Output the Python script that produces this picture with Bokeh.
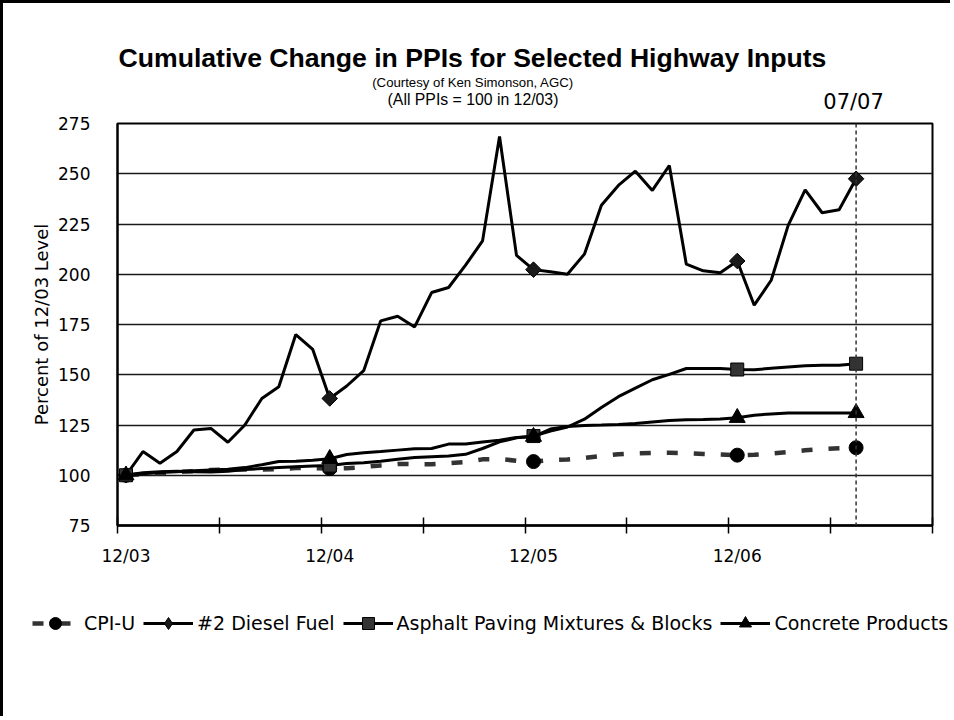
from math import pi
from bokeh.plotting import figure
from bokeh.layouts import column
from bokeh.models import Range1d, FixedTicker, Legend, LegendItem, Span
from bokeh.core.properties import value
from bokeh.embed import file_html
from bokeh.resources import INLINE

# ---------------- data ----------------
month_labels = []
for yy, mm in [(3, 12)] + [(y, m) for y in (4, 5, 6) for m in range(1, 13)] + [(7, m) for m in range(1, 8)]:
    month_labels.append(f"{mm:02d}/{yy:02d}")

cpi = [100.0, 100.5, 101.0, 101.7, 102.0, 102.6, 102.9, 102.8, 102.8, 103.0, 103.6, 103.6,
       103.3, 103.5, 104.1, 104.9, 105.6, 105.5, 105.5, 106.0, 106.6, 107.9, 108.1, 107.2,
       106.8, 107.6, 107.8, 108.6, 109.6, 110.5, 110.9, 111.1, 111.2, 111.0, 110.6, 110.3,
       110.0, 110.2, 110.8, 111.6, 112.4, 113.0, 113.4, 113.7]

diesel = [100.0, 111.8, 106.0, 111.8, 122.5, 123.3, 116.4, 125.0, 138.2, 144.0, 170.0, 162.6,
          138.2, 144.4, 152.0, 176.8, 179.1, 173.8, 190.9, 193.4, 204.5, 216.6, 268.5, 209.4,
          202.3, 201.2, 200.0, 210.0, 234.3, 244.2, 251.3, 241.7, 254.1, 205.0, 201.7, 200.7,
          206.6, 184.6, 197.0, 224.3, 242.0, 230.6, 232.1, 247.5]

asphalt = [100.0, 101.2, 101.8, 102.0, 101.8, 101.6, 102.0, 102.8, 103.3, 103.8, 104.2, 104.6,
           104.8, 105.8, 106.2, 107.0, 108.0, 108.8, 109.2, 109.6, 110.4, 113.3, 116.6, 118.6,
           119.5, 122.0, 124.0, 127.9, 133.7, 139.1, 143.3, 147.5, 150.2, 153.1, 153.1, 153.1,
           152.6, 152.5, 153.2, 153.9, 154.5, 154.7, 154.7, 155.5]

concrete = [100.0, 100.8, 101.4, 101.8, 102.2, 102.6, 103.0, 103.8, 105.2, 106.8, 107.0, 107.5,
            108.2, 110.3, 111.2, 111.8, 112.5, 113.2, 113.3, 115.5, 115.6, 116.5, 117.4, 118.8,
            119.2, 123.0, 124.3, 124.8, 125.0, 125.3, 125.8, 126.5, 127.2, 127.6, 127.7, 128.0,
            128.6, 129.9, 130.5, 131.0, 131.0, 131.0, 131.0, 131.0]

series_names = ["CPI-U", "#2 Diesel Fuel", "Asphalt Paving Mixtures & Blocks", "Concrete Products"]
marker_months = ["12/03", "12/04", "12/05", "12/06", "07/07"]
x_tick_labels = ["12/03", "12/04", "12/05", "12/06"]
y_ticks = [75, 100, 125, 150, 175, 200, 225, 250, 275]
n_slots = 48          # category slots on the axis (12/03 .. 11/07)
current_month = "07/07"

title = "Cumulative Change in PPIs for Selected Highway Inputs"
subtitle1 = "(Courtesy of Ken Simonson, AGC)"
subtitle2 = "(All PPIs = 100 in 12/03)"
y_title = "Percent of 12/03 Level"

# ---------------- derived positions (slot centres) ----------------
xs = [i + 0.5 for i in range(len(month_labels))]
midx = [month_labels.index(m) for m in marker_months]
mx = [xs[i] for i in midx]
cur_x = xs[month_labels.index(current_month)]

# ---------------- geometry (content coordinates; a 3px frame border sits left/top) ----------------
B = 3                          # outer border width
W = 947
FR_L, FR_R = 117 - B, 932 - B  # plot frame left / right
HEAD_H = 113 - B
TOP_PAD = 10                   # main figure border above the frame (frame top at page y 123)
MAIN_H = 477
FOOT_H = 126
upp = n_slots / (FR_R - FR_L)  # x units per pixel

# styles
CPI_LINE = dict(line_color="#333333", line_width=4.5, line_dash="11 16", line_dash_offset=25)
CPI_MK = dict(marker="circle", size=14, fill_color="black", line_color="black")
DIE_LINE = dict(line_color="black", line_width=3)
DIE_MK = dict(marker="square", angle=pi / 4, size=11, fill_color="#1a1a1a", line_color="black")
DIE_MK_LEG = dict(marker="diamond", size=16, fill_color="#1a1a1a", line_color="black")
ASP_LINE = dict(line_color="black", line_width=3)
ASP_MK = dict(marker="square", size=13, fill_color="#333333", line_color="black", line_width=1)
CON_LINE = dict(line_color="black", line_width=3)
CON_MK = dict(marker="triangle", size=16, fill_color="black", line_color="black")
STYLES = [(cpi, CPI_LINE, CPI_MK, CPI_MK), (diesel, DIE_LINE, DIE_MK, DIE_MK_LEG),
          (asphalt, ASP_LINE, ASP_MK, ASP_MK), (concrete, CON_LINE, CON_MK, CON_MK)]

# ---------------- header ----------------
head = figure(width=W, height=HEAD_H, output_backend="svg", toolbar_location=None,
              x_range=Range1d(-FR_L * upp, (W - FR_L) * upp), y_range=Range1d(HEAD_H, 0),
              x_axis_type=None, y_axis_type=None, min_border=0,
              outline_line_color=None, background_fill_color="white", border_fill_color="white")
head.frame_align = False
head.xgrid.visible = False
head.ygrid.visible = False

def hx(page_px):
    return (page_px - B - FR_L) * upp

def hy(page_py):
    return page_py - B

head.text(x=[hx(472)], y=[hy(57)], text=[title], text_align="center", text_baseline="middle",
          text_font=value("Liberation Sans"), text_font_style="bold", text_font_size="26.6px",
          text_color="black")
head.text(x=[hx(472.5)], y=[hy(81.7)], text=[subtitle1], text_align="center", text_baseline="middle",
          text_font=value("Liberation Sans"), text_font_size="13.2px", text_color="black")
head.text(x=[hx(472.5)], y=[hy(99.3)], text=[subtitle2], text_align="center", text_baseline="middle",
          text_font=value("Liberation Sans"), text_font_size="15.8px", text_color="black")
head.text(x=[cur_x - 0.15], y=[hy(101.2)], text=[current_month],
          text_align="center", text_baseline="middle",
          text_font=value("DejaVu Sans"), text_font_size="21px", text_color="black")

# ---------------- main plot ----------------
p = figure(width=W, height=MAIN_H, output_backend="svg", toolbar_location=None,
           x_range=Range1d(0, n_slots), y_range=Range1d(75, 275),
           min_border_left=FR_L, min_border_right=W - FR_R, min_border_top=TOP_PAD,
           min_border_bottom=MAIN_H - TOP_PAD - 402,
           background_fill_color="white", border_fill_color="white")
p.frame_align = False
p.outline_line_color = "black"
p.outline_line_width = 2

p.xgrid.visible = False
p.ygrid.ticker = FixedTicker(ticks=y_ticks)
p.ygrid.grid_line_color = "#1a1a1a"
p.ygrid.grid_line_width = 1.3

xa = p.xaxis[0]
xa.ticker = FixedTicker(ticks=[month_labels.index(m) + 0.5 for m in x_tick_labels],
                        minor_ticks=list(range(0, n_slots + 1, 6)))
xa.major_label_overrides = {month_labels.index(m) + 0.5: m for m in x_tick_labels}
xa.major_tick_line_color = None
xa.major_tick_in = 0
xa.major_tick_out = 0
xa.minor_tick_line_color = "black"
xa.minor_tick_line_width = 1.5
xa.minor_tick_in = 8
xa.minor_tick_out = 8
xa.axis_line_color = "black"
xa.axis_line_width = 2.5
xa.major_label_standoff = 12
xa.major_label_text_font = "DejaVu Sans"
xa.major_label_text_font_size = "17px"
xa.major_label_text_color = "black"

ya = p.yaxis[0]
ya.ticker = FixedTicker(ticks=y_ticks)
ya.major_tick_line_color = None
ya.major_tick_in = 0
ya.major_tick_out = 0
ya.minor_tick_line_color = None
ya.axis_line_color = "black"
ya.axis_line_width = 2
ya.major_label_standoff = 27
ya.major_label_text_font = "DejaVu Sans"
ya.major_label_text_font_size = "17px"
ya.major_label_text_color = "black"
ya.axis_label = y_title
ya.axis_label_text_font = "DejaVu Sans"
ya.axis_label_text_font_size = "18px"
ya.axis_label_text_font_style = "normal"
ya.axis_label_text_color = "black"
ya.axis_label_standoff = 3

p.add_layout(Span(location=cur_x, dimension="height",
                  line_color="#333333", line_width=1.5, line_dash="4 3"))

for vals, ls, ms, _ in STYLES:
    p.line(xs, vals, **ls)
    p.scatter(mx, [vals[i] for i in midx], **ms)

# ---------------- footer with legend ----------------
# the same series are drawn here far outside the visible y range, only to feed the legend
foot = figure(width=W, height=FOOT_H, output_backend="svg", toolbar_location=None,
              x_range=Range1d(0, n_slots), y_range=Range1d(-2000, -1000),
              x_axis_type=None, y_axis_type=None, min_border=0,
              outline_line_color=None, background_fill_color="white", border_fill_color="white")
foot.frame_align = False
foot.xgrid.visible = False
foot.ygrid.visible = False

items = []
for name, (vals, ls, _, ml) in zip(series_names, STYLES):
    rl = foot.line(xs, vals, **ls)
    rm = foot.scatter(mx, [vals[i] for i in midx], **ml)
    items.append(LegendItem(label=name, renderers=[rl, rm]))

LEG_H = 30
legend = Legend(items=items, orientation="horizontal",
                location=(30 - B, FOOT_H - 33 - LEG_H // 2))
legend.label_text_font = "DejaVu Sans"
legend.label_text_font_size = "19px"
legend.label_text_color = "black"
legend.glyph_width = 50
legend.glyph_height = LEG_H
legend.label_height = LEG_H
legend.label_standoff = 4
legend.spacing = 8
legend.padding = 0
legend.margin = 0
legend.border_line_color = None
legend.background_fill_alpha = 0
foot.add_layout(legend, "center")

layout = column(head, p, foot, spacing=0,
                styles={"border-left": f"{B}px solid black", "border-top": f"{B}px solid black"})
open("out.html", "w").write(file_html(layout, INLINE))
